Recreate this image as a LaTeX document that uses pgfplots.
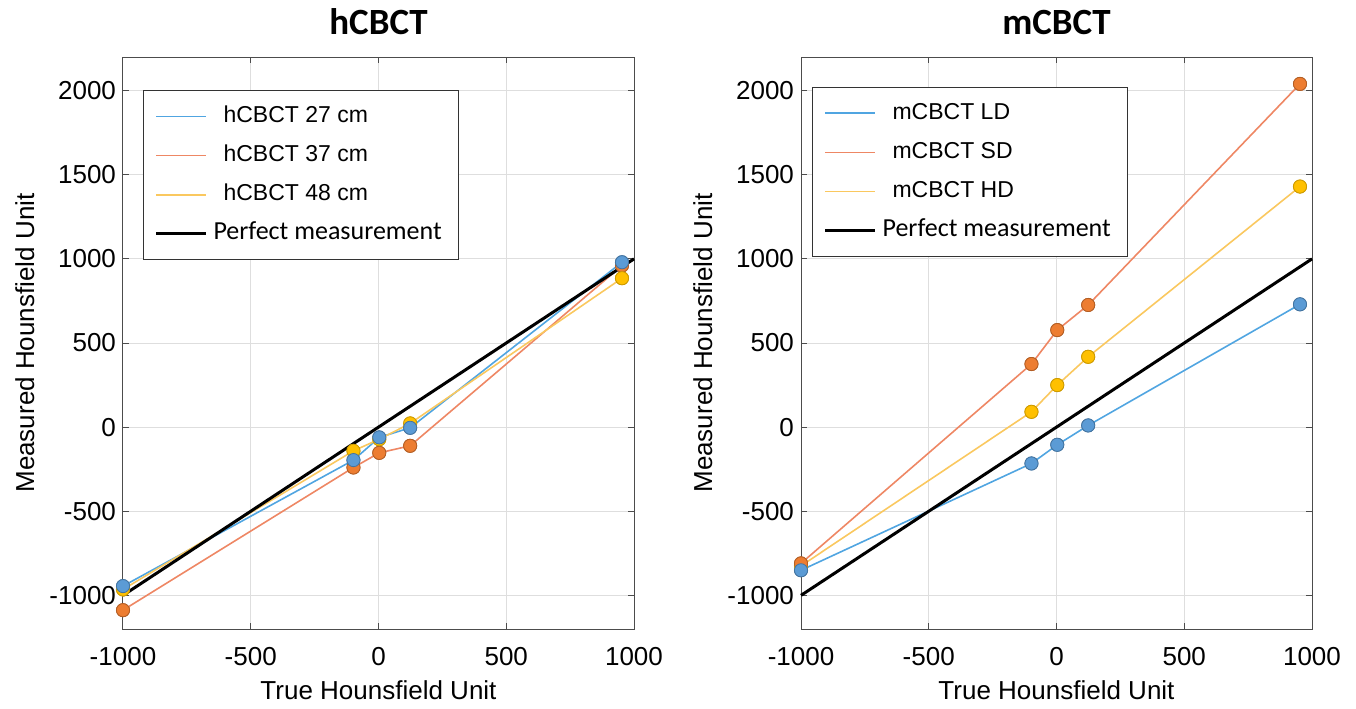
\documentclass[border=0pt]{standalone}
\usepackage{fontspec}
\setmainfont{Liberation Sans}
\newfontfamily\carlito{Carlito}
\usepackage{pgfplots}
\pgfplotsset{compat=1.18}

\definecolor{mblue}{RGB}{91,155,213}
\definecolor{morange}{RGB}{237,125,49}
\definecolor{myellow}{RGB}{255,192,0}
\definecolor{lblue}{RGB}{80,165,225}
\definecolor{lorange}{RGB}{238,135,100}
\definecolor{lyellow}{RGB}{250,200,95}

\pgfplotsset{
  every axis title/.style={at={(0.5,1.061)}, anchor=center,
    font=\carlito\bfseries\fontsize{18.5}{20}\selectfont},
  cbct/.style={
    scale only axis, width=255.5pt, height=286pt,
    xmin=-1000, xmax=1000, ymin=-1200, ymax=2200,
    xtick={-1000,-500,...,1000}, ytick={-1000,-500,...,2000},
    grid=major, major grid style={draw=black!13, line width=0.5pt},
    axis line style={draw=black!70, line width=0.5pt},
    tick style={draw=black!70, line width=0.5pt},
    major tick length=3pt, tick align=inside,
    scaled ticks=false,
    /pgf/number format/1000 sep={},
    /pgf/number format/assume math mode=true,
    tick label style={font=\fontsize{13}{15}\selectfont},
    xticklabel style={yshift=-5.5pt},
    label style={font=\fontsize{13}{15}\selectfont},
    xlabel={True Hounsfield Unit}, ylabel={Measured Hounsfield Unit},
    xlabel style={at={(axis description cs:0.5,-0.107)}, anchor=center},
    ylabel style={at={(axis description cs:-0.192,0.5)}, anchor=center},
    clip=false,
    legend cell align=left,
    legend image code/.code={\draw[##1, mark=none] (0pt,0pt) -- (25pt,0pt);},
    legend style={draw=black!80, line width=0.6pt, anchor=north west,
      font=\fontsize{11.5}{13}\selectfont, inner xsep=5.5pt, inner ysep=3pt,
      row sep=0pt, column sep=0pt,
      nodes={inner xsep=3pt, inner ysep=3.8pt, text height=9pt, text depth=3pt}},
  },
  sb/.style={lblue, line width=0.8pt, mark=*, mark size=3.3pt,
    mark options={fill=mblue, draw=mblue!75!black, line width=0.4pt}},
  so/.style={lorange, line width=0.8pt, mark=*, mark size=3.3pt,
    mark options={fill=morange, draw=morange!75!black, line width=0.4pt}},
  sy/.style={lyellow, line width=0.8pt, mark=*, mark size=3.3pt,
    mark options={fill=myellow, draw=myellow!80!black, line width=0.4pt}},
  sk/.style={black, line width=1.5pt},
}

\newcommand{\perfect}{{\carlito\fontsize{13}{15}\selectfont Perfect measurement}}

\begin{document}
\begin{tikzpicture}
\path[use as bounding box] (0,0) rectangle (678pt,354pt);

% left panel
\begin{axis}[cbct, at={(61.5pt,39.5pt)}, anchor=south west, title={hCBCT},
  legend style={at={(0.039,0.942)}}]
\addplot[sb] coordinates {(-1000,-945) (-98,-196) (3,-61) (124,-4) (953,980)};
\addlegendentry{\hspace{5pt}hCBCT 27 cm}
\addplot[so] coordinates {(-1000,-1088) (-98,-240) (3,-153) (124,-111) (953,960)};
\addlegendentry{\hspace{5pt}hCBCT 37 cm}
\addplot[sy] coordinates {(-1000,-965) (-98,-141) (3,-72) (124,22) (953,885)};
\addlegendentry{\hspace{5pt}hCBCT 48 cm}
\addplot[sk] coordinates {(-1000,-1000) (1000,1000)};
\addlegendentry{\perfect}
% markers again on top, in the reference's stacking order
\addplot[so, only marks, forget plot] coordinates {(-1000,-1088) (-98,-240) (3,-153) (124,-111) (953,960)};
\addplot[sy, only marks, forget plot] coordinates {(-1000,-965) (-98,-141) (3,-72) (124,22) (953,885)};
\addplot[sb, only marks, forget plot] coordinates {(-1000,-945) (-98,-196) (3,-61) (124,-4) (953,980)};
\end{axis}

% right panel
\begin{axis}[cbct, at={(400.5pt,39.5pt)}, anchor=south west, title={mCBCT},
  legend style={at={(0.0215,0.9476)}}]
\addplot[sb] coordinates {(-1000,-851) (-98,-216) (3,-105) (124,10) (953,730)};
\addlegendentry{\hspace{5pt}mCBCT LD}
\addplot[so] coordinates {(-1000,-810) (-98,375) (3,577) (124,726) (953,2040)};
\addlegendentry{\hspace{5pt}mCBCT SD}
\addplot[sy] coordinates {(-1000,-825) (-98,91) (3,250) (124,418) (953,1430)};
\addlegendentry{\hspace{5pt}mCBCT HD}
\addplot[sk] coordinates {(-1000,-1000) (1000,1000)};
\addlegendentry{\perfect}
\addplot[sy, only marks, forget plot] coordinates {(-1000,-825) (-98,91) (3,250) (124,418) (953,1430)};
\addplot[so, only marks, forget plot] coordinates {(-1000,-810) (-98,375) (3,577) (124,726) (953,2040)};
\addplot[sb, only marks, forget plot] coordinates {(-1000,-851) (-98,-216) (3,-105) (124,10) (953,730)};
\end{axis}
\end{tikzpicture}
\end{document}
